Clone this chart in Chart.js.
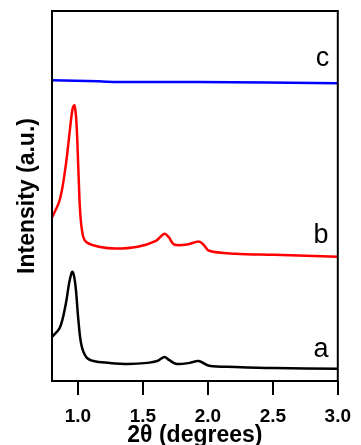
<!DOCTYPE html>
<html>
<head>
<meta charset="utf-8">
<script src="https://cdn.jsdelivr.net/npm/chart.js@4/dist/chart.umd.min.js"></script>
<style>
  html, body { margin: 0; padding: 0; background: #fff; }
  #wrap { width: 361px; height: 445px; }
</style>
</head>
<body>
<div id="wrap"><canvas id="xrdChart" width="361" height="445"></canvas></div>
<script>
// 2theta values, intensity in arbitrary units
var thetaA = [0.80, 0.86, 0.905, 0.935, 0.958, 0.98, 1.003, 1.026, 1.063, 1.12, 1.236, 1.386, 1.537, 1.61, 1.665, 1.70, 1.76, 1.86, 1.93, 2.01, 2.21, 2.51, 3.0];
var intensA = [11.9, 14.4, 20.6, 27.0, 29.5, 26.0, 16.5, 9.8, 6.5, 5.4, 4.9, 4.6, 4.9, 5.4, 6.5, 5.7, 4.6, 4.9, 5.4, 4.1, 3.8, 3.5, 3.3];

var thetaB = [0.80, 0.86, 0.905, 0.935, 0.958, 0.973, 0.988, 1.003, 1.018, 1.04, 1.07, 1.16, 1.29, 1.46, 1.60, 1.665, 1.70, 1.74, 1.84, 1.93, 1.965, 2.01, 2.21, 2.51, 3.0];
var intensB = [44.2, 49.0, 58.0, 67.0, 73.5, 74.5, 70.0, 57.2, 45.0, 39.0, 37.4, 36.3, 35.8, 36.3, 37.9, 39.8, 38.8, 36.9, 36.9, 37.7, 36.9, 35.2, 34.4, 34.1, 33.6];

var thetaC = [0.80, 1.16, 1.31, 1.91, 3.0];
var intensC = [81.3, 81.0, 80.8, 80.8, 80.5];

var seriesNames = ['a', 'b', 'c'];
var xTicks = [1.0, 1.5, 2.0, 2.5, 3.0];

var fontFamily = '"Liberation Sans", Arial, sans-serif';

function toPoints(xs, ys) {
    return xs.map(function (x, i) { return { x: x, y: ys[i] }; });
}

// frame + series letters
var framePlugin = {
    id: 'frame',
    afterDraw: function (chart) {
        var c = chart.ctx, a = chart.chartArea;
        var xs = chart.scales.x, ys = chart.scales.y;
        c.save();
        c.strokeStyle = '#000';
        c.lineWidth = 2;
        c.strokeRect(a.left, a.top, a.right - a.left, a.bottom - a.top);
        c.fillStyle = '#000';
        c.font = '27px ' + fontFamily;
        c.textAlign = 'center';
        c.textBaseline = 'alphabetic';
        var pos = [[2.871, 6.5], [2.871, 37.4], [2.883, 85.1]];
        seriesNames.forEach(function (n, i) {
            c.fillText(n, xs.getPixelForValue(pos[i][0]), ys.getPixelForValue(pos[i][1]));
        });
        c.restore();
    }
};

var ctx = document.getElementById('xrdChart').getContext('2d');
new Chart(ctx, {
    type: 'line',
    data: {
        datasets: [{
            label: 'a',
            data: toPoints(thetaA, intensA),
            borderColor: '#000000',
            borderWidth: 2.5,
            pointRadius: 0,
            tension: 0.35
        },
        {
            label: 'b',
            data: toPoints(thetaB, intensB),
            borderColor: '#ff0000',
            borderWidth: 2.5,
            pointRadius: 0,
            tension: 0.35
        },
        {
            label: 'c',
            data: toPoints(thetaC, intensC),
            borderColor: '#0000ff',
            borderWidth: 2.5,
            pointRadius: 0,
            tension: 0.35
        }]
    },
    options: {
        responsive: false,
        animation: false,
        layout: { padding: { top: 11, right: 16, left: 0, bottom: 0 } },
        plugins: {
            legend: { display: false },
            tooltip: { enabled: false }
        },
        scales: {
            x: {
                type: 'linear',
                min: 0.8,
                max: 3.0,
                afterBuildTicks: function (scale) {
                    scale.ticks = xTicks.map(function (v) { return { value: v }; });
                },
                afterFit: function (scale) { scale.height = 64; },
                border: { display: false },
                grid: {
                    drawOnChartArea: false,
                    drawTicks: true,
                    tickLength: 14,
                    lineWidth: 2,
                    color: '#000'
                },
                ticks: {
                    color: '#000',
                    padding: 10,
                    maxRotation: 0,
                    autoSkip: false,
                    font: { family: fontFamily, size: 19, weight: 'bold' },
                    callback: function (v) { return Number(v).toFixed(1); }
                },
                title: {
                    display: true,
                    text: '2θ (degrees)',
                    color: '#000',
                    padding: { top: 0, bottom: -4 },
                    font: { family: fontFamily, size: 23, weight: 'bold' }
                }
            },
            y: {
                min: 0,
                max: 100,
                afterFit: function (scale) { scale.width = 52; },
                border: { display: false },
                grid: { display: false },
                ticks: { display: false },
                title: {
                    display: true,
                    text: 'Intensity (a.u.)',
                    color: '#000',
                    padding: { top: 14, bottom: 0 },
                    font: { family: fontFamily, size: 23, weight: 'bold' }
                }
            }
        }
    },
    plugins: [framePlugin]
});
</script>
</body>
</html>
